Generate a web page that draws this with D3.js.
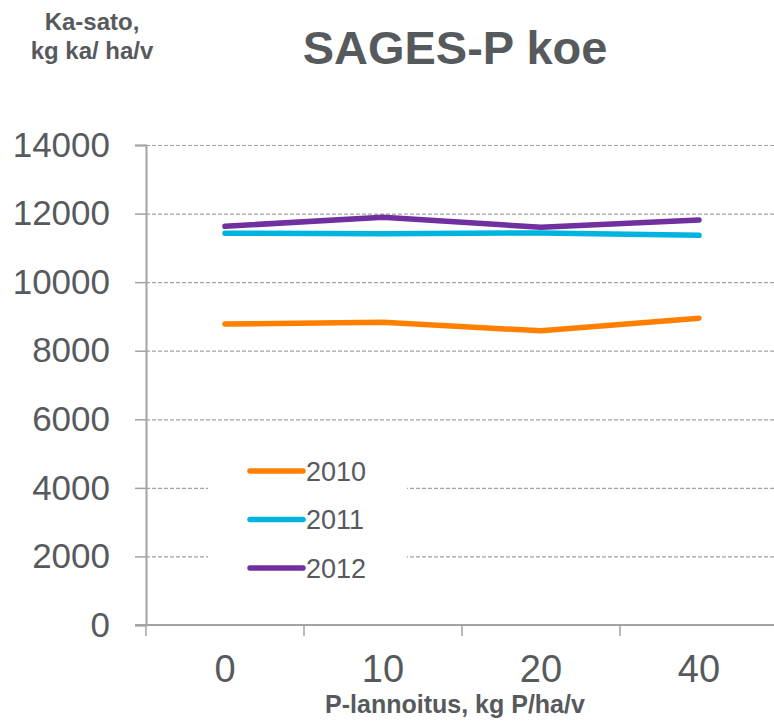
<!DOCTYPE html>
<html>
<head>
<meta charset="utf-8">
<script src="https://cdn.jsdelivr.net/npm/d3@7"></script>
<style>
  body { margin: 0; background: #fff; }
  text { font-family: "Liberation Sans", Arial, sans-serif; fill: #575a5d; }
</style>
</head>
<body>
<div id="chart"></div>
<script>
  "use strict";

  // data
  var categories = ["0", "10", "20", "40"];
  var years = ["2010", "2011", "2012"];
  var values2010 = [8780, 8830, 8580, 8950];
  var values2011 = [11425, 11415, 11435, 11365];
  var values2012 = [11630, 11890, 11600, 11815];
  var yTicks = [0, 2000, 4000, 6000, 8000, 10000, 12000, 14000];
  var colors = ["#ff8000", "#00b4e0", "#7030a0"];

  var series = [values2010, values2011, values2012];

  var width = 774, height = 726;
  var margin = {top: 145, right: 0, bottom: 101, left: 146};

  var svg = d3.select("#chart")
    .append("svg")
    .attr("width", width)
    .attr("height", height);

  var x = d3.scaleBand()
    .domain(categories)
    .range([margin.left, 778]);

  var y = d3.scaleLinear()
    .domain([0, 14000])
    .range([height - margin.bottom, margin.top]);

  // grid lines
  svg.append("g")
    .selectAll("line")
    .data(yTicks.slice(1))
    .enter()
    .append("line")
    .attr("x1", margin.left)
    .attr("x2", width)
    .attr("y1", function(d) { return y(d) + 0.5; })
    .attr("y2", function(d) { return y(d) + 0.5; })
    .attr("stroke", "#a3a3a3")
    .attr("stroke-width", 1.2)
    .attr("stroke-dasharray", "4,2");

  // y axis
  var yAxis = svg.append("g")
    .attr("transform", "translate(" + margin.left + ",0)")
    .call(d3.axisLeft(y).tickValues(yTicks).tickFormat(d3.format("d")).tickSize(11).tickPadding(25));
  yAxis.select(".domain").attr("stroke", "#a3a3a3").attr("stroke-width", 2);
  yAxis.selectAll(".tick line").attr("stroke", "#a3a3a3").attr("stroke-width", 1.5);
  yAxis.selectAll(".tick text")
    .style("font-size", "35px")
    .attr("fill", "#575a5d")
    .style("font-family", "'Liberation Sans', Arial, sans-serif");

  // x axis
  var xAxis = svg.append("g")
    .attr("transform", "translate(0," + (height - margin.bottom) + ")")
    .call(d3.axisBottom(x).tickSize(0).tickPadding(30));
  xAxis.select(".domain").remove();
  xAxis.append("line")
    .attr("x1", 135).attr("x2", width)
    .attr("stroke", "#a3a3a3").attr("stroke-width", 2);
  xAxis.selectAll(".tickmark")
    .data(categories)
    .enter()
    .append("line")
    .attr("x1", function(d) { return x(d); })
    .attr("x2", function(d) { return x(d); })
    .attr("y1", 0).attr("y2", 11)
    .attr("stroke", "#a3a3a3").attr("stroke-width", 1.5);
  xAxis.selectAll(".tick text")
    .style("font-size", "38px")
    .attr("fill", "#575a5d")
    .style("font-family", "'Liberation Sans', Arial, sans-serif");

  // lines
  var line = d3.line()
    .x(function(d, i) { return x(categories[i]) + x.bandwidth() / 2; })
    .y(function(d) { return y(d); });

  svg.append("g")
    .selectAll("path")
    .data(series)
    .enter()
    .append("path")
    .attr("d", line)
    .attr("fill", "none")
    .attr("stroke", function(d, i) { return colors[i]; })
    .attr("stroke-width", 5.5)
    .attr("stroke-linecap", "round")
    .attr("stroke-linejoin", "round");

  // legend
  var legend = svg.append("g");
  legend.append("rect")
    .attr("x", 208).attr("y", 452)
    .attr("width", 199).attr("height", 140)
    .attr("fill", "#fff");
  var legendItem = legend.selectAll(".item")
    .data(years)
    .enter()
    .append("g")
    .attr("transform", function(d, i) { return "translate(0," + (471 + i * 48.5) + ")"; });
  legendItem.append("line")
    .attr("x1", 250).attr("x2", 303)
    .attr("stroke", function(d, i) { return colors[i]; })
    .attr("stroke-width", 5.5)
    .attr("stroke-linecap", "round");
  legendItem.append("text")
    .attr("x", 306)
    .attr("dy", "0.36em")
    .style("font-size", "27px")
    .text(function(d) { return d; });

  // titles
  svg.append("text")
    .attr("x", 455).attr("y", 64)
    .attr("text-anchor", "middle")
    .style("font-size", "47px")
    .style("font-weight", "bold")
    .text("SAGES-P koe");

  svg.append("text")
    .attr("x", 92).attr("y", 30)
    .attr("text-anchor", "middle")
    .style("font-size", "24px")
    .style("font-weight", "bold")
    .text("Ka-sato,");
  svg.append("text")
    .attr("x", 92).attr("y", 59)
    .attr("text-anchor", "middle")
    .style("font-size", "24px")
    .style("font-weight", "bold")
    .text("kg ka/ ha/v");

  svg.append("text")
    .attr("x", 455).attr("y", 713)
    .attr("text-anchor", "middle")
    .style("font-size", "25px")
    .style("font-weight", "bold")
    .text("P-lannoitus, kg P/ha/v");
</script>
</body>
</html>
